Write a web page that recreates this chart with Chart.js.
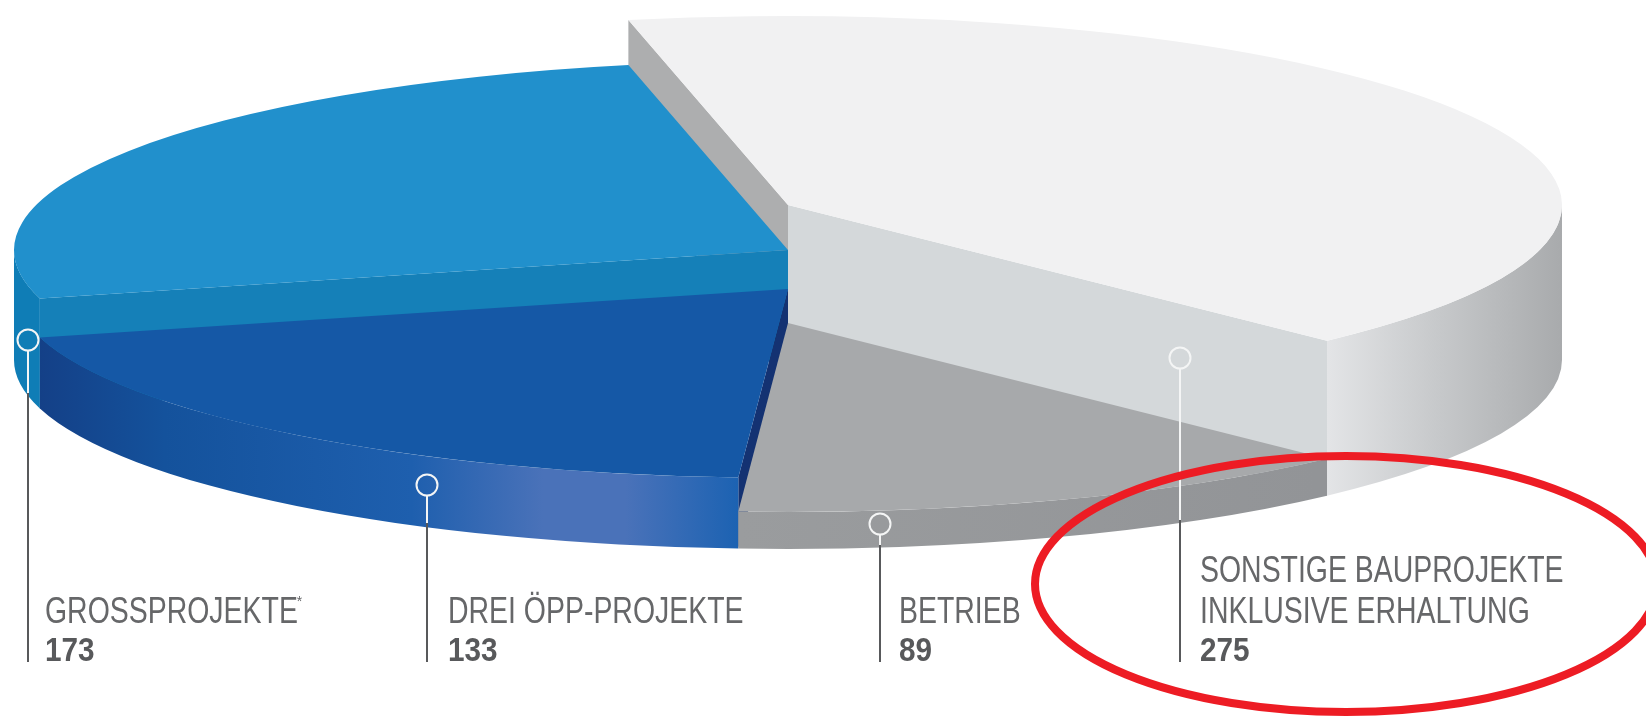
<!DOCTYPE html>
<html>
<head>
<meta charset="utf-8">
<title>Projekte</title>
<script src="https://cdn.jsdelivr.net/npm/chart.js@4/dist/chart.umd.js"></script>
<style>
	html, body { margin: 0; padding: 0; background: #fff; }
	#box { position: relative; width: 1646px; height: 716px; overflow: hidden; }
</style>
</head>
<body>
<div id="box"><canvas id="pie" width="1646" height="716"></canvas></div>
<script>
"use strict";

// values as printed in the picture, clockwise from the back
var categories = [
	["SONSTIGE BAUPROJEKTE", "INKLUSIVE ERHALTUNG"],
	["BETRIEB"],
	["DREI ÖPP-PROJEKTE"],
	["GROSSPROJEKTE*"]
];
var projectCounts = [275, 89, 133, 173];

var topColors = ["#f1f1f2", "#a7a9ab", "#1558a6", "#2190cc"];
var sliceHeights = [155, 37, 71, 110];
var drawOrder = [0, 3, 2, 1];

// wall shading, left to right across the page
var wallStops = [
	[[0.80, "#e6e7e9"], [0.87, "#c8cacc"], [0.95, "#a8aaac"]],
	[[0.45, "#9a9c9e"], [0.80, "#929497"]],
	[[0.02, "#143f86"], [0.10, "#14529c"], [0.25, "#1e5fae"], [0.33, "#4a72b9"], [0.38, "#4a72b9"], [0.45, "#1b62b2"]],
	[[0.0, "#0f7db6"], [0.03, "#0f7db6"]]
];
var backWallColor = "#adaeaf";
var sideWallColors = ["#d4d8da", null, "#143272", "#1580b8"];

var squashX = 774 / 356;
var squashY = 189 / 356;

// leader lines: x, ring y, y where the line leaves the pie, text x
var leaders = [
	[1180, 358, 520, 1200],
	[880, 524, 545, 899],
	[427, 485, 523, 448],
	[28, 340, 393, 45]
];

function outerWall(ctx, arc, index) {
	var rx = arc.outerRadius * squashX;
	var ry = arc.outerRadius * squashY;
	var from = Math.max(arc.startAngle, 0);
	var to = Math.min(arc.endAngle, Math.PI);
	var grad = ctx.createLinearGradient(0, 0, ctx.canvas.width, 0);
	wallStops[index].forEach(function(s) {
		grad.addColorStop(s[0], s[1]);
	});
	ctx.beginPath();
	ctx.ellipse(arc.x, arc.y - sliceHeights[index], rx, ry, 0, from, to);
	ctx.ellipse(arc.x, arc.y, rx, ry, 0, to, from, true);
	ctx.closePath();
	ctx.fillStyle = grad;
	ctx.fill();
}

function radialWall(ctx, arc, angle, height, color) {
	var ex = arc.x + arc.outerRadius * squashX * Math.cos(angle);
	var ey = arc.y + arc.outerRadius * squashY * Math.sin(angle);
	ctx.beginPath();
	ctx.moveTo(arc.x, arc.y - height);
	ctx.lineTo(ex, ey - height);
	ctx.lineTo(ex, ey);
	ctx.lineTo(arc.x, arc.y);
	ctx.closePath();
	ctx.fillStyle = color;
	ctx.fill();
}

function topFace(ctx, arc, height) {
	ctx.save();
	ctx.translate(arc.x, arc.y - height);
	ctx.scale(squashX, squashY);
	ctx.translate(-arc.x, -arc.y);
	arc.draw(ctx);
	ctx.restore();
}

function narrowText(ctx, text, x, y, stretch) {
	ctx.save();
	ctx.translate(x, y);
	ctx.scale(stretch, 1);
	ctx.fillText(text, 0, 0);
	ctx.restore();
}

var solidPie = {
	id: "solidPie",
	beforeDatasetDraw: function(chart, args) {
		var ctx = chart.ctx;
		var arcs = args.meta.data;
		drawOrder.forEach(function(i) {
			var arc = arcs[i];
			if (i === 0) {
				radialWall(ctx, arc, arc.startAngle, sliceHeights[i], backWallColor);
				radialWall(ctx, arc, arc.endAngle, sliceHeights[i], sideWallColors[i]);
			} else if (sideWallColors[i]) {
				radialWall(ctx, arc, arc.startAngle, sliceHeights[i], sideWallColors[i]);
			}
			outerWall(ctx, arc, i);
			topFace(ctx, arc, sliceHeights[i]);
		});
		return false;
	},
	afterDraw: function(chart) {
		var ctx = chart.ctx;
		var bottom = 662;
		var labelFont = "36px 'Liberation Sans'";
		var labelStretch = 0.79;
		ctx.save();
		leaders.forEach(function(l, i) {
			ctx.lineWidth = 2;
			ctx.strokeStyle = "#f4f5f5";
			ctx.beginPath();
			ctx.moveTo(l[0], l[1] + 10);
			ctx.lineTo(l[0], l[2]);
			ctx.stroke();
			ctx.strokeStyle = "#58595b";
			ctx.beginPath();
			ctx.moveTo(l[0], l[2]);
			ctx.lineTo(l[0], bottom);
			ctx.stroke();
			ctx.strokeStyle = "#f4f5f5";
			ctx.beginPath();
			ctx.arc(l[0], l[1], 10.5, 0, Math.PI * 2);
			ctx.stroke();

			ctx.textBaseline = "alphabetic";
			ctx.textAlign = "left";
			ctx.fillStyle = "#666769";
			ctx.font = labelFont;
			var lines = chart.data.labels[i];
			lines.forEach(function(line, n) {
				var y = 623 - (lines.length - 1 - n) * 41;
				var star = line.charAt(line.length - 1) === "*";
				var text = star ? line.slice(0, -1) : line;
				narrowText(ctx, text, l[3], y, labelStretch);
				if (star) {
					var w = ctx.measureText(text).width * labelStretch;
					ctx.font = "14px 'Liberation Sans'";
					ctx.fillText("*", l[3] + w - 1, y - 17);
					ctx.font = labelFont;
				}
			});
			ctx.fillStyle = "#58595b";
			ctx.font = "bold 33px 'Liberation Sans'";
			narrowText(ctx, String(projectCounts[i]), l[3], 661, 0.9);
		});
		// red marker around the last label
		ctx.strokeStyle = "#ed1c24";
		ctx.lineWidth = 8;
		ctx.beginPath();
		ctx.ellipse(1346, 584, 311, 128, 0, 0, Math.PI * 2);
		ctx.stroke();
		ctx.restore();
	}
};

new Chart(document.getElementById("pie").getContext("2d"), {
	type: "pie",
	data: {
		labels: categories,
		datasets: [{
			data: projectCounts,
			backgroundColor: topColors,
			borderWidth: 0
		}]
	},
	options: {
		responsive: false,
		animation: false,
		rotation: -11.9,
		layout: { padding: { left: 0, right: 70, top: 4, bottom: 0 } },
		plugins: {
			legend: { display: false },
			tooltip: { enabled: false }
		}
	},
	plugins: [solidPie]
});
</script>
</body>
</html>
